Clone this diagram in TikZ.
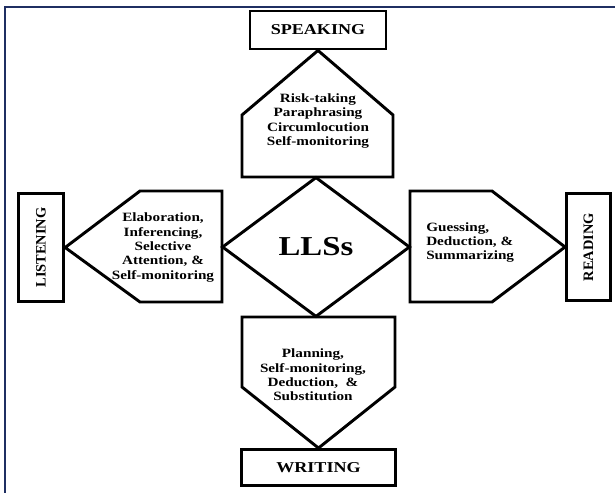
\documentclass[tikz,border=0pt]{standalone}
\usepackage{fontspec}
\usepackage{xcolor}
\usepackage{tikz}
\usetikzlibrary{shapes.geometric}
\setmainfont{Liberation Serif}
\newfontfamily\widefont{Liberation Serif}[FakeStretch=1.2]
\definecolor{framenavy}{HTML}{1F2F62}
\tikzset{
skill/.style={draw, line width=2.2pt, inner sep=0pt, font=\widefont\bfseries\fontsize{11.3}{13}\selectfont},
sideskill/.style={skill, rotate=90, font=\bfseries\fontsize{10.8}{13}\selectfont},
wall/.style={line width=2.2pt, line join=miter},
strat/.style={inner sep=0pt, font=\widefont\bfseries\fontsize{9.5}{10.7}\selectfont}
}

\begin{document}
\begin{tikzpicture}[x=0.75pt, y=-0.75pt]
\useasboundingbox (0,0) rectangle (615,493);
\draw[framenavy, line width=1.1pt] (5,493)--(5,7)--(615,7);

\node[skill, minimum width=102pt, minimum height=28.5pt] (speaking) at (318,30) {SPEAKING};
\node[skill, minimum width=115.5pt, minimum height=27pt] (writing) at (318.5,467.5) {WRITING};
\node[sideskill, minimum width=81pt, minimum height=34pt] (listening) at (41,247.5) {LISTENING};
\node[sideskill, minimum width=80pt, minimum height=33pt] (reading) at (588.5,247) {READING};
\node[draw, diamond, line width=2.2pt, inner sep=0pt, minimum width=141pt, minimum height=105pt,
  font=\widefont\bfseries\fontsize{20.5}{24}\selectfont] (lls) at (316,247) {LLSs};

\draw[wall] (speaking.south)--(393,115)--(393,177)--(242,177)--(242,115)--cycle;
\draw[wall] (writing.north)--(242,387)--(242,317)--(395,317)--(395,387)--cycle;
\draw[wall] (listening.south)--(140,191)--(222,191)--(222,302)--(140,302)--cycle;
\draw[wall] (reading.north)--(492,302)--(410,302)--(410,191)--(492,191)--cycle;

\node[strat, align=center] (speakstrat) at (318,121) {Risk-taking\\Paraphrasing\\Circumlocution\\Self-monitoring};
\node[strat, align=center] (writestrat) at (313,375) {Planning,\\Self-monitoring,\\Deduction,\ \ \&\\Substitution};
\node[strat, align=center] (listenstrat) at (163,247.5) {Elaboration,\\Inferencing,\\Selective\\Attention, \&\\Self-monitoring};
\node[strat, align=left, anchor=west] (readstrat) at (426,242.5) {Guessing,\\Deduction, \&\\Summarizing};
\end{tikzpicture}
\end{document}
